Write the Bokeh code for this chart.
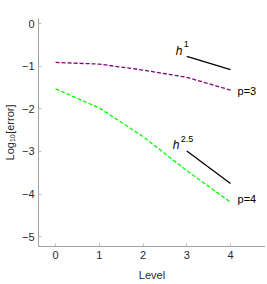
from bokeh.plotting import figure
from bokeh.models import Range1d, FixedTicker
from bokeh.core.properties import value
from bokeh.embed import file_html
from bokeh.resources import INLINE

levels = [0, 1, 2, 3, 4]
err_p3 = [-0.91, -0.95, -1.09, -1.26, -1.56]
err_p4 = [-1.53, -1.98, -2.65, -3.45, -4.19]
ref_x = [3, 4]
ref_h1 = [-0.77, -1.08]
ref_h25 = [-2.99, -3.75]
x_ticks = [0, 1, 2, 3, 4]
y_ticks = [0, -1, -2, -3, -4, -5]

FONT = "Liberation Sans"

p = figure(width=265, height=284, output_backend="svg", toolbar_location=None,
           x_range=Range1d(-0.39, 4.8), y_range=Range1d(-5.23, 0.12),
           min_border_left=37, min_border_top=18, min_border_right=0, min_border_bottom=38)
p.outline_line_color = None
p.grid.grid_line_color = None
p.background_fill_color = "white"

p.line(levels, err_p3, line_color="#800080", line_width=1.3, line_dash="4 2")
p.line(levels, err_p4, line_color="#00ff00", line_width=1.3, line_dash="4 2")
p.line(ref_x, ref_h1, line_color="black", line_width=1.3)
p.line(ref_x, ref_h25, line_color="black", line_width=1.3)

# annotations
p.text(x=[2.75], y=[-0.64], text=["h"], text_font=value(FONT), text_font_style="italic",
       text_font_size="12px", text_baseline="alphabetic", text_color="black")
p.text(x=[2.93], y=[-0.49], text=["1"], text_font=value(FONT),
       text_font_size="9px", text_baseline="alphabetic", text_color="black")
p.text(x=[2.68], y=[-2.86], text=["h"], text_font=value(FONT), text_font_style="italic",
       text_font_size="12px", text_baseline="alphabetic", text_color="black")
p.text(x=[2.86], y=[-2.70], text=["2.5"], text_font=value(FONT),
       text_font_size="9px", text_baseline="alphabetic", text_color="black")
p.text(x=[4.16, 4.16], y=[-1.57, -4.11], text=["p=3", "p=4"], text_font=value(FONT),
       text_font_size="11px", text_baseline="middle", text_color="black")

for ax in (p.xaxis[0], p.yaxis[0]):
    ax.axis_line_color = "#a0a0a0"
    ax.major_tick_line_color = "#c0c0c0"
    ax.major_tick_in = 3
    ax.major_tick_out = 0
    ax.minor_tick_line_color = None
    ax.major_label_text_font = FONT
    ax.major_label_text_font_size = "11px"
    ax.major_label_text_color = "#2a2a2a"
    ax.axis_label_text_font = FONT
    ax.axis_label_text_font_size = "11px"
    ax.axis_label_text_font_style = "normal"
    ax.axis_label_text_color = "#2a2a2a"
    ax.major_label_standoff = 4
    ax.axis_label_standoff = 7

p.xaxis.ticker = FixedTicker(ticks=x_ticks)
p.yaxis.ticker = FixedTicker(ticks=y_ticks)
p.yaxis.major_label_overrides = {t: ("\u2212" + str(-t) if t < 0 else str(t)) for t in y_ticks}
p.xaxis.axis_label = "Level"
p.yaxis.axis_label = "Log\u2081\u2080[error]"
p.yaxis.axis_label_standoff = 3

open("out.html", "w").write(file_html(p, INLINE))
